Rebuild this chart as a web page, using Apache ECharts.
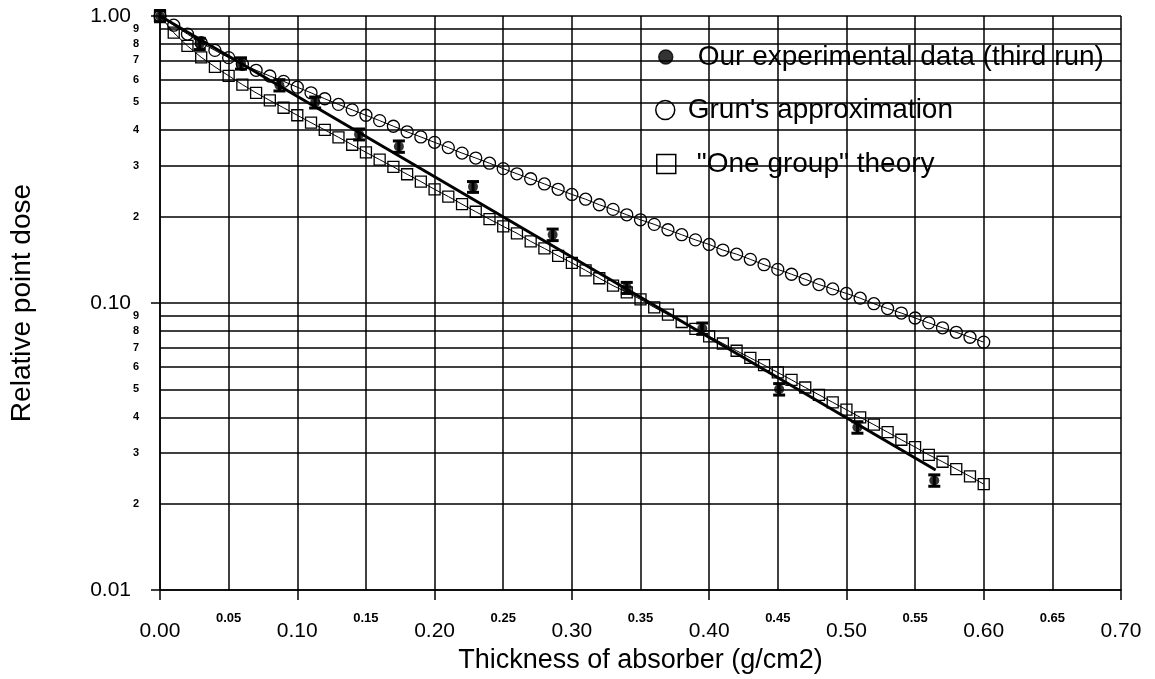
<!DOCTYPE html>
<html>
<head>
<meta charset="utf-8">
<script src="https://cdn.jsdelivr.net/npm/echarts@6/dist/echarts.min.js"></script>
<style>
html, body {margin: 0; padding: 0; background: #fff;}
#echarts-depth-dose {width: 1155px; height: 679px;}
</style>
</head>
<body>
<div id="echarts-depth-dose"></div>
<script>
//--------------------Data--------------------
let theory_x = [
    0.00, 0.01, 0.02, 0.03, 0.04, 0.05, 0.06, 0.07, 0.08, 0.09,
    0.10, 0.11, 0.12, 0.13, 0.14, 0.15, 0.16, 0.17, 0.18, 0.19,
    0.20, 0.21, 0.22, 0.23, 0.24, 0.25, 0.26, 0.27, 0.28, 0.29,
    0.30, 0.31, 0.32, 0.33, 0.34, 0.35, 0.36, 0.37, 0.38, 0.39,
    0.40, 0.41, 0.42, 0.43, 0.44, 0.45, 0.46, 0.47, 0.48, 0.49,
    0.50, 0.51, 0.52, 0.53, 0.54, 0.55, 0.56, 0.57, 0.58, 0.59,
    0.60
];
let grun_values = [
    1.000, 0.929, 0.865, 0.807, 0.759, 0.716, 0.679, 0.647, 0.618, 0.592,
    0.565, 0.540, 0.515, 0.492, 0.471, 0.451, 0.432, 0.413, 0.395, 0.379,
    0.363, 0.348, 0.333, 0.320, 0.307, 0.294, 0.282, 0.271, 0.260, 0.249,
    0.239, 0.230, 0.220, 0.212, 0.203, 0.195, 0.188, 0.180, 0.173, 0.166,
    0.160, 0.153, 0.148, 0.142, 0.136, 0.131, 0.126, 0.121, 0.116, 0.112,
    0.108, 0.104, 0.0995, 0.0957, 0.0923, 0.0887, 0.0853, 0.0820, 0.0791, 0.0760,
    0.0731
];
let one_group_values = [
    1.000, 0.875, 0.787, 0.718, 0.665, 0.619, 0.577, 0.540, 0.508, 0.479,
    0.451, 0.425, 0.401, 0.378, 0.356, 0.335, 0.316, 0.298, 0.281, 0.265,
    0.249, 0.235, 0.221, 0.208, 0.196, 0.185, 0.175, 0.164, 0.155, 0.146,
    0.138, 0.130, 0.122, 0.115, 0.109, 0.103, 0.0966, 0.0912, 0.0859, 0.0813,
    0.0766, 0.0723, 0.0682, 0.0644, 0.0608, 0.0573, 0.0540, 0.0508, 0.0479, 0.0451,
    0.0425, 0.0400, 0.0377, 0.0355, 0.0334, 0.0315, 0.0296, 0.0280, 0.0264, 0.0249,
    0.0234
];
let exp_x = [0.000, 0.029, 0.059, 0.087, 0.113, 0.145, 0.174, 0.228, 0.286, 0.340, 0.395, 0.451, 0.508, 0.564];
let exp_values = [1.00, 0.80, 0.684, 0.574, 0.50, 0.387, 0.351, 0.254, 0.173, 0.113, 0.0815, 0.0501, 0.0369, 0.0241];
let exp_errors = [0.045, 0.036, 0.031, 0.026, 0.022, 0.017, 0.016, 0.011, 0.008, 0.005, 0.0037, 0.0023, 0.0017, 0.0011];
let fit_x = [0.000, 0.565];
let fit_values = [1.00, 0.0262];
let minor_ticks = [0.02, 0.03, 0.04, 0.05, 0.06, 0.07, 0.08, 0.09, 0.2, 0.3, 0.4, 0.5, 0.6, 0.7, 0.8, 0.9];
let legend_names = ['Our experimental data (third run)', "Grun's approximation", '"One group" theory'];

//--------------------Style--------------------
let font_family = 'Liberation Sans, Arial, sans-serif';
let grid_line = {color: '#000', width: 1.5};

let chart_dom = document.getElementById('echarts-depth-dose');
let chart = echarts.init(chart_dom);

function pairs(xs, ys) {
    return xs.map(function (x, i) { return [x, ys[i]]; });
}
let error_data = exp_x.map(function (x, i) {
    return [x, exp_values[i] - exp_errors[i], exp_values[i] + exp_errors[i]];
});

//--------------------Legends--------------------
function make_legend(name, icon, fill, left, top, size, pad) {
    return {
        data: [{name: name, icon: icon, itemStyle: {color: fill, borderColor: '#000', borderWidth: 1.5}}],
        left: left, top: top, padding: 0,
        itemWidth: size, itemHeight: size,
        selectedMode: false,
        textStyle: {fontSize: 28, color: '#000', fontFamily: font_family, padding: [0, 0, 0, pad]}
    };
}

//--------------------Series--------------------
let series = [
    {
        name: legend_names[1], type: 'line', data: pairs(theory_x, grun_values),
        symbol: 'circle', symbolSize: 12, z: 3,
        lineStyle: {color: '#000', width: 1},
        itemStyle: {color: 'transparent', borderColor: '#000', borderWidth: 1.3}
    },
    {
        name: legend_names[2], type: 'line', data: pairs(theory_x, one_group_values),
        symbol: 'rect', symbolSize: 11, z: 3,
        lineStyle: {color: '#000', width: 1},
        itemStyle: {color: 'transparent', borderColor: '#000', borderWidth: 1.3}
    },
    {
        name: 'fit', type: 'line', data: pairs(fit_x, fit_values),
        symbol: 'none', z: 4,
        lineStyle: {color: '#000', width: 3}
    },
    {
        name: 'errors', type: 'custom', data: error_data, z: 5,
        encode: {x: 0, y: [1, 2]},
        renderItem: function (params, api) {
            let lo = api.coord([api.value(0), api.value(1)]);
            let hi = api.coord([api.value(0), api.value(2)]);
            let w = 6;
            let st = {stroke: '#000', lineWidth: 3};
            return {
                type: 'group',
                children: [
                    {type: 'line', shape: {x1: lo[0], y1: lo[1], x2: hi[0], y2: hi[1]}, style: st},
                    {type: 'line', shape: {x1: lo[0] - w, y1: lo[1], x2: lo[0] + w, y2: lo[1]}, style: st},
                    {type: 'line', shape: {x1: hi[0] - w, y1: hi[1], x2: hi[0] + w, y2: hi[1]}, style: st}
                ]
            };
        }
    },
    {
        name: legend_names[0], type: 'scatter', data: pairs(exp_x, exp_values),
        symbol: 'circle', symbolSize: 10, z: 6,
        itemStyle: {color: '#000'}
    },
    {
        // minor log grid lines with their small labels
        name: 'minor-grid', type: 'line', data: [], z: 1, xAxisIndex: 1,
        markLine: {
            silent: true, symbol: 'none', animation: false,
            lineStyle: {color: '#000', width: 1.5, type: 'solid'},
            label: {
                show: true, position: 'start', distance: 21,
                fontSize: 11, fontWeight: 'bold', color: '#000', fontFamily: font_family,
                formatter: function (p) {
                    let v = p.value;
                    return String(Math.round(v < 0.1 ? v * 100 : v * 10));
                }
            },
            data: minor_ticks.map(function (v) { return {yAxis: v}; })
        }
    }
];

//------------------Generate Graph------------------
let option = {
    backgroundColor: '#fff',
    animation: false,
    textStyle: {fontFamily: font_family},
    grid: {left: 157, right: 34, top: 16, bottom: 87},
    legend: [
        make_legend(legend_names[0], 'circle', '#000', 658, 43, 14, 20),
        make_legend(legend_names[1], 'circle', 'transparent', 655, 96, 19, 8),
        make_legend(legend_names[2], 'rect', 'transparent', 656, 150, 19, 16)
    ],
    xAxis: [
        {
            type: 'value', min: 0, max: 0.7, interval: 0.1, position: 'bottom',
            name: 'Thickness of absorber (g/cm2)', nameLocation: 'middle', nameGap: 54,
            nameTextStyle: {fontSize: 27, color: '#000', fontFamily: font_family},
            axisLine: {show: true, lineStyle: grid_line},
            axisTick: {show: true, length: 10, lineStyle: grid_line},
            axisLabel: {fontSize: 21, color: '#000', margin: 31, formatter: function (v) { return v.toFixed(2); }},
            splitLine: {show: false}
        },
        {
            type: 'value', min: 0, max: 0.7, interval: 0.05, position: 'bottom',
            axisLine: {show: false},
            axisTick: {show: false},
            axisLabel: {
                fontSize: 13, fontWeight: 'bold', color: '#000', margin: 22,
                formatter: function (v) { return Math.round(v * 100) % 10 === 5 ? v.toFixed(2) : ''; }
            },
            splitLine: {show: true, lineStyle: grid_line}
        }
    ],
    yAxis: {
        type: 'log', logBase: 10, min: 0.01, max: 1,
        name: 'Relative point dose', nameLocation: 'middle', nameGap: 124,
        nameTextStyle: {fontSize: 28, color: '#000', fontFamily: font_family},
        axisLine: {show: true, lineStyle: grid_line},
        axisTick: {show: true, length: 9, lineStyle: grid_line},
        axisLabel: {fontSize: 21, color: '#000', margin: 29, formatter: function (v) { return v.toFixed(2); }},
        splitLine: {show: true, lineStyle: grid_line}
    },
    series: series
};
if (option && typeof option === 'object') {
    chart.setOption(option, true);
}
</script>
</body>
</html>
